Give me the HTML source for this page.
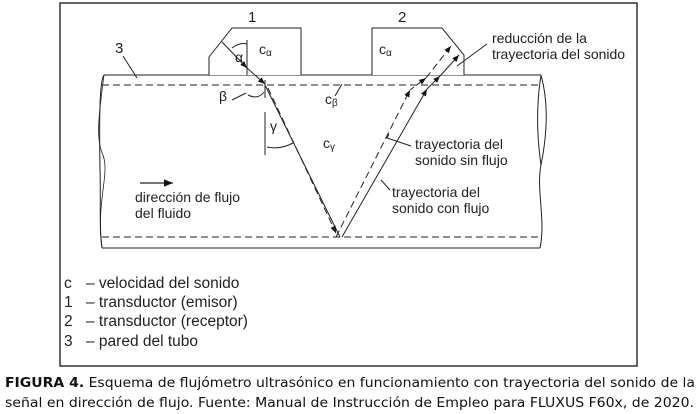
<!DOCTYPE html>
<html><head><meta charset="utf-8"><style>
html,body{margin:0;padding:0;background:#fff;width:700px;height:414px;overflow:hidden}
</style></head><body>
<svg width="700" height="414" viewBox="0 0 700 414" xmlns="http://www.w3.org/2000/svg">
<defs>
<marker id="a" viewBox="0 0 10 10" refX="10" refY="5" markerWidth="7" markerHeight="7" orient="auto"><path d="M0,1 L10,5 L0,9 z" fill="#111"/></marker>
</defs>
<rect x="60" y="3" width="577" height="363" fill="none" stroke="#333" stroke-width="1.5"/>
<g stroke="#222" fill="none" stroke-width="1">
<path d="M104,75 L541,75"/>
<path d="M102,248 L540,248"/>
<path d="M104,75 C100,80 99,110 100,170 C101,200 99,230 102,248" />
<path d="M104,75 C98,120 96,140 103,155 C110,175 96,200 102,248" stroke-width="0.8"/>
<path d="M541,75 C548,100 548,130 541,165 C536,190 546,220 540,248"/>
<path d="M541,75 C537,100 536,130 541,165"/>
<path d="M102,85 L541,85" stroke-dasharray="7,4"/>
<path d="M102,237 L540,237" stroke-dasharray="7,4"/>
<path d="M209,75 L209,57 L232,28 L301,28 L301,75" fill="#fff"/>
<path d="M372,75 L372,28 L442,28 L464,55 L464,75" fill="#fff"/>
<path d="M123,56 L137,78"/>
<path d="M247,40 L247,75"/>
<path d="M232,48 Q240,42 247,44"/>
<path d="M265,80 L265,98"/>
<path d="M248,95 Q258,100 264,92"/>
<path d="M232,100 L246,93"/>
<path d="M265,112 L265,155"/>
<path d="M267,147 Q280,150 293,143"/>
<path d="M335,96 L342,84"/>
<path d="M222,42 L247,68" marker-end="url(#a)"/>
<path d="M247,68 L265,84" marker-end="url(#a)"/>
<path d="M265,85 L340,237"/>
<path d="M268,88 L336,233" stroke-dasharray="7,4" marker-end="url(#a)"/>
<path d="M336,237 L410,90" stroke-dasharray="7,4" marker-end="url(#a)"/>
<path d="M410,90 L426,78" stroke-dasharray="5,3" marker-end="url(#a)"/>
<path d="M426,78 L451,46" stroke-dasharray="7,4" marker-end="url(#a)"/>
<path d="M342,237 L427,89" marker-end="url(#a)"/>
<path d="M427,89 L440,76" marker-end="url(#a)"/>
<path d="M440,76 L459,55" marker-end="url(#a)"/>
<path d="M487,44 L457,66"/>
<path d="M389,134 L387,138 L411,146"/>
<path d="M381,180 L390,190"/>
<path d="M140,183 L173,183" marker-end="url(#a)" stroke-width="1.3"/>
</g>
<g font-family="Liberation Sans, Arial, sans-serif" fill="#222">
<g font-size="15">
<text x="248" y="22">1</text>
<text x="398" y="22">2</text>
<text x="115" y="53">3</text>
</g>
<g font-size="14">
<text x="259" y="54">c<tspan font-size="10" dy="2">α</tspan></text>
<text x="379" y="54">c<tspan font-size="10" dy="2">α</tspan></text>
<text x="235" y="62">α</text>
<text x="219" y="101">β</text>
<text x="325" y="104">c<tspan font-size="10" dy="2">β</tspan></text>
<text x="270" y="131">γ</text>
<text x="323" y="148">c<tspan font-size="10" dy="2">γ</tspan></text>
<text x="492" y="43">reducción de la</text>
<text x="492" y="59">trayectoria del sonido</text>
<text x="415" y="149">trayectoria del</text>
<text x="415" y="165">sonido sin flujo</text>
<text x="392" y="197">trayectoria del</text>
<text x="392" y="213">sonido con flujo</text>
<text x="135" y="202">dirección de flujo</text>
<text x="135" y="218">del fluido</text>
</g>
<g font-size="15.5">
<text x="64" y="288">c</text><text x="86" y="288">– velocidad del sonido</text>
<text x="64" y="307">1</text><text x="86" y="307">– transductor (emisor)</text>
<text x="64" y="326">2</text><text x="86" y="326">– transductor (receptor)</text>
<text x="64" y="346">3</text><text x="86" y="346">– pared del tubo</text>
</g>
</g>
<g font-size="13" font-family="DejaVu Sans, Verdana, sans-serif" fill="#111">
<text x="5" y="387" textLength="690" lengthAdjust="spacingAndGlyphs"><tspan font-weight="bold">FIGURA 4.</tspan> Esquema de flujómetro ultrasónico en funcionamiento con trayectoria del sonido de la</text>
<text x="5" y="407" textLength="689" lengthAdjust="spacingAndGlyphs">señal en dirección de flujo. Fuente: Manual de Instrucción de Empleo para FLUXUS F60x, de 2020.</text>
</g>
</svg>
</body></html>
